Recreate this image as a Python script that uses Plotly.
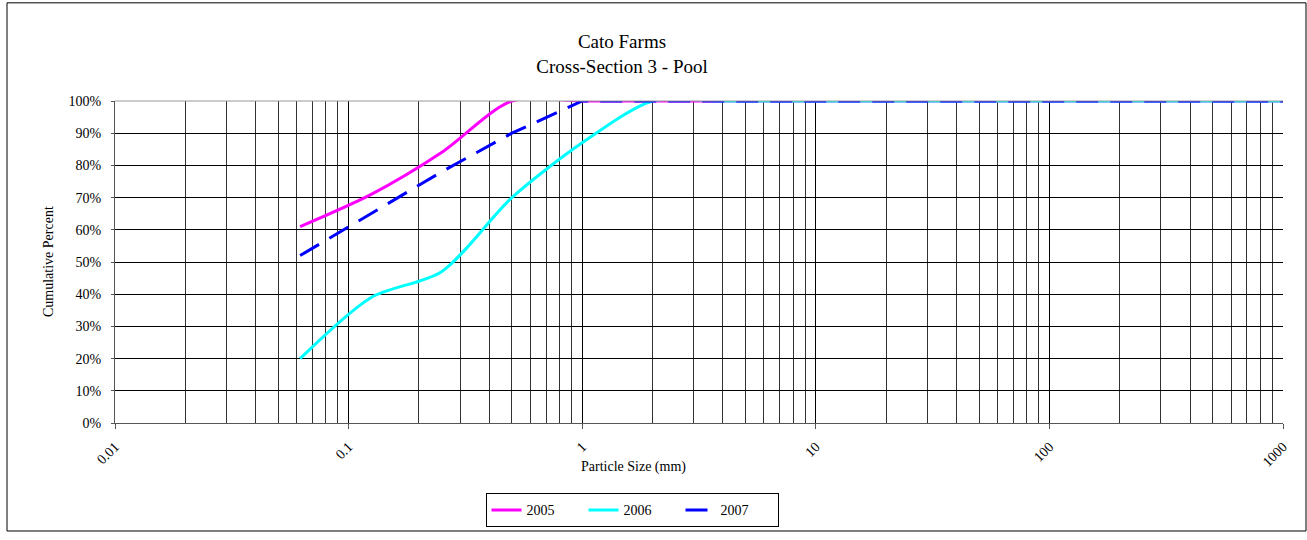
import plotly.graph_objects as go

sizes_2005 = [0.062, 0.125, 0.25, 0.5, 1, 2, 4, 8, 16, 32, 64, 128, 256, 512, 1000]
pct_2005 = [61, 71, 84, 100, 100, 100, 100, 100, 100, 100, 100, 100, 100, 100, 100]

sizes_2006 = [0.062, 0.125, 0.25, 0.5, 1, 2, 4, 8, 16, 32, 64, 128, 256, 512, 1000]
pct_2006 = [20, 39, 47, 70, 87, 100, 100, 100, 100, 100, 100, 100, 100, 100, 100]

sizes_2007 = [0.062, 0.125, 0.25, 0.5, 1, 2, 4, 8, 16, 32, 64, 128, 256, 512, 1000]
pct_2007 = [52, 65, 78, 90, 100, 100, 100, 100, 100, 100, 100, 100, 100, 100, 100]

x_ticks = [0.01, 0.1, 1, 10, 100, 1000]
x_tick_labels = ["0.01", "0.1", "1", "10", "100", "1000"]
y_ticks = list(range(0, 101, 10))
y_tick_labels = [f"{v}%" for v in y_ticks]

minor_vals = [k * 10 ** e for e in range(-2, 3) for k in range(2, 10)]

FONT = "Liberation Serif, Times New Roman, serif"
TXT = 14

fig = go.Figure()
fig.add_trace(go.Scatter(x=sizes_2005, y=pct_2005, name="2005", mode="lines",
                         line=dict(color="#FF00FF", width=3, shape="spline", smoothing=0.8)))
fig.add_trace(go.Scatter(x=sizes_2006, y=pct_2006, name="2006", mode="lines",
                         line=dict(color="#00FFFF", width=3, shape="spline", smoothing=0.8)))
fig.add_trace(go.Scatter(x=sizes_2007, y=pct_2007, name="2007", mode="lines",
                         line=dict(color="#0000FF", width=3, dash="22px,12px")))

L, R, T, B = 115, 24, 101, 111
W, H = 1307, 540
pw, ph = W - L - R, H - T - B


def px_x(p):
    return (p - L) / pw


def px_y(p):
    return (T + ph - p) / ph


fig.update_layout(
    width=W, height=H,
    margin=dict(l=L, r=R, t=T, b=B),
    paper_bgcolor="white", plot_bgcolor="white",
    font=dict(family=FONT, size=TXT, color="black"),
    title=dict(text="Cato Farms<br>Cross-Section 3 - Pool", x=622 / W, xanchor="center",
               y=1 - 48 / H, yanchor="top", font=dict(family=FONT, size=19)),
    showlegend=True,
    legend=dict(orientation="h", x=px_x(632), xanchor="center", y=px_y(518),
                yanchor="middle", bordercolor="black", borderwidth=1,
                font=dict(family=FONT, size=TXT), entrywidth=52, entrywidthmode="pixels",
                tracegroupgap=0),
    xaxis=dict(type="log", range=[-2, 3], tickvals=x_ticks, ticktext=x_tick_labels,
               tickangle=-45, showgrid=True, gridcolor="black", gridwidth=1,
               minor=dict(tickvals=minor_vals, showgrid=True, gridcolor="#333333", gridwidth=1,
                          ticks=""),
               showline=True, linecolor="#555555", linewidth=1, ticks="outside", ticklen=5,
               tickcolor="#555555", mirror=False, zeroline=False, ticklabelstandoff=4,
               tickfont=dict(family=FONT, size=TXT)),
    yaxis=dict(range=[0, 100], tickvals=y_ticks, ticktext=y_tick_labels,
               showgrid=True, gridcolor="black", gridwidth=1,
               showline=True, linecolor="#555555", linewidth=1, ticks="outside", ticklen=3,
               tickcolor="#555555", zeroline=False, ticklabelstandoff=7,
               tickfont=dict(family=FONT, size=TXT)),
    yaxis2=dict(range=[0, 100], overlaying="y", anchor="free", position=0.4, side="left",
                tickvals=y_ticks, showticklabels=False, showgrid=False, zeroline=False,
                showline=True, linecolor="#666666", linewidth=2, ticks="outside", ticklen=4,
                tickcolor="#666666"),
    annotations=[
        dict(text="Particle Size (mm)", xref="paper", yref="paper", x=px_x(633), y=px_y(474),
             xanchor="center", yanchor="middle", showarrow=False,
             font=dict(family=FONT, size=TXT)),
        dict(text="Cumulative Percent", xref="paper", yref="paper", x=px_x(48), y=px_y(265),
             xanchor="center", yanchor="middle", showarrow=False, textangle=-90,
             font=dict(family=FONT, size=TXT)),
    ],
    shapes=[
        dict(type="rect", xref="paper", yref="paper",
             x0=px_x(7), x1=px_x(W - 1), y0=px_y(H - 1), y1=px_y(1),
             line=dict(color="black", width=1), fillcolor="rgba(0,0,0,0)", layer="below"),
        dict(type="line", xref="paper", yref="paper", x0=0, x1=1, y0=1, y1=1,
             line=dict(color="#999999", width=1)),
    ],
)

fig.write_html("out.html", config={"displayModeBar": False},
               post_script="document.body.style.margin='0px';")
